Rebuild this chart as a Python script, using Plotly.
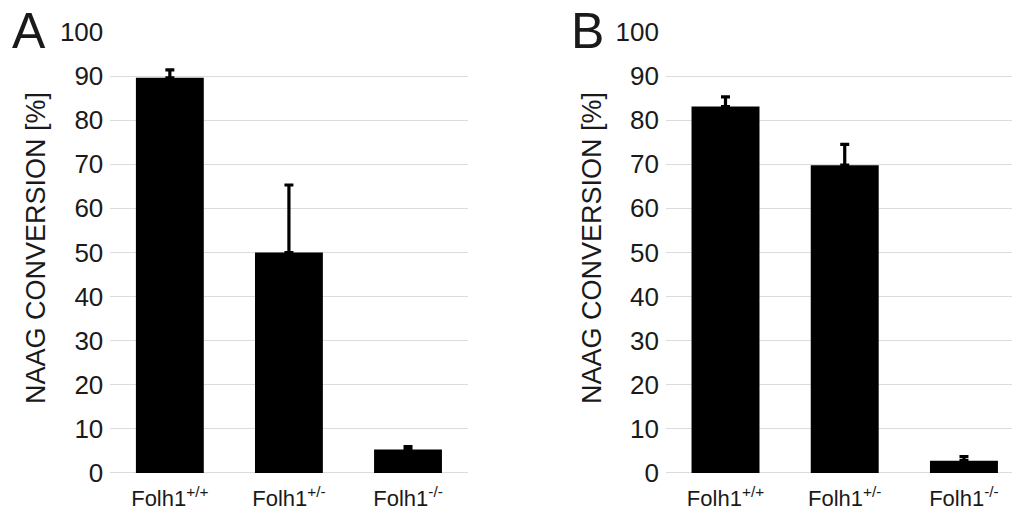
import plotly.graph_objects as go

categories = ["Folh1<sup>+/+</sup>", "Folh1<sup>+/-</sup>", "Folh1<sup>-/-</sup>"]
values_a = [89.6, 50.0, 5.3]
errors_a = [1.8, 15.3, 0.7]
values_b = [83.1, 69.8, 2.8]
errors_b = [2.2, 4.7, 0.9]
y_ticks = [0, 10, 20, 30, 40, 50, 60, 70, 80, 90, 100]
panel_labels = ["A", "B"]
y_title = "NAAG CONVERSION [%]"

FONT = "Liberation Sans, Arial, sans-serif"
TXT = "#1a1a1a"
GRID = "#dcdcdc"

fig = go.Figure()
xs = list(range(len(categories)))
for vals, errs, xa, ya in [(values_a, errors_a, "x", "y"), (values_b, errors_b, "x2", "y2")]:
    fig.add_trace(go.Bar(
        x=xs, y=vals, xaxis=xa, yaxis=ya,
        marker=dict(color="black", line=dict(width=0)),
        error_y=dict(type="data", array=errs, arrayminus=[0] * len(errs),
                     color="black", thickness=3.2, width=4.5),
        showlegend=False,
    ))

common_y = dict(range=[0, 100], tickvals=y_ticks, showgrid=True, gridcolor=GRID, gridwidth=1,
                zeroline=True, zerolinecolor=GRID, zerolinewidth=1, showline=False,
                ticks="", ticklabelstandoff=6, automargin=False,
                tickfont=dict(family=FONT, size=26, color=TXT),
                domain=[0.0816, 0.9379])
common_x = dict(tickvals=xs, ticktext=categories, showgrid=False, zeroline=False, showline=False,
                ticks="", ticklabelstandoff=10, automargin=False,
                tickfont=dict(family=FONT, size=22, color=TXT))

fig.update_layout(
    width=1012, height=515, margin=dict(l=0, r=0, t=0, b=0, autoexpand=False),
    paper_bgcolor="white", plot_bgcolor="white",
    bargap=0.43,
    xaxis=dict(common_x, domain=[0.109, 0.462], range=[-0.5, 2.5], anchor="y"),
    yaxis=dict(common_y, anchor="x"),
    xaxis2=dict(common_x, domain=[0.658, 1.0], range=[-0.5, 2.403], anchor="y2"),
    yaxis2=dict(common_y, anchor="x2"),
)

for px_x, lab in [(29, panel_labels[0]), (587, panel_labels[1])]:
    fig.add_annotation(x=px_x / 1012, y=1 - 31 / 515, xref="paper", yref="paper",
                       text=lab, showarrow=False, xanchor="center", yanchor="middle",
                       font=dict(family=FONT, size=50, color=TXT))
for px_x in [36, 592]:
    fig.add_annotation(x=px_x / 1012, y=1 - 248 / 515, xref="paper", yref="paper",
                       text=y_title, textangle=-90, showarrow=False,
                       xanchor="center", yanchor="middle",
                       font=dict(family=FONT, size=27, color=TXT))

fig.write_html("out.html")
